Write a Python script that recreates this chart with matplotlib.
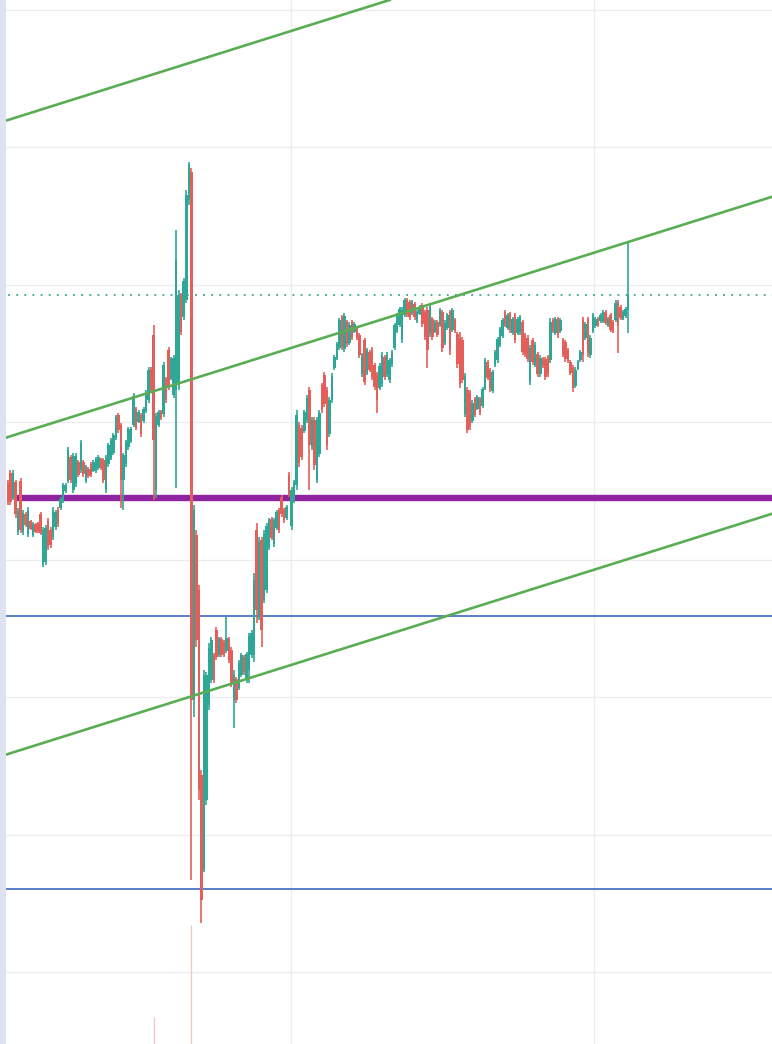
import numpy as np
import matplotlib
matplotlib.use("Agg")
import matplotlib.pyplot as plt

# OHLC candles (price units)
opens = [
    517, 527, 502, 518, 468, 519, 468, 486,
    466, 479, 465, 476, 477, 486, 436, 438,
    479, 470, 463, 473, 490, 492, 499, 509,
    519, 543, 510, 516, 538, 530, 538, 519,
    531, 536, 529, 529, 532, 541, 540, 510,
    536, 542, 547, 562, 585, 575, 520, 536,
    553, 559, 575, 591, 578, 585, 579, 589,
    600, 631, 665, 510, 575, 589, 586, 621,
    650, 622, 605, 610, 615, 705, 683, 700,
    800, 828, 300, 465, 410, 225, 130, 200,
    295, 320, 345, 370, 345, 361, 358, 349,
    361, 350, 300, 321, 312, 325, 343, 320,
    330, 345, 345, 470, 385, 460, 400, 410,
    453, 481, 456, 472, 490, 503, 490, 482,
    525, 474, 500, 515, 575, 572, 569, 580,
    610, 553, 580, 520, 546, 615, 625, 610,
    566, 600, 632, 642, 652, 683, 651, 678,
    657, 678, 668, 672, 665, 626, 660, 627,
    648, 650, 635, 625, 612, 616, 643, 625,
    620, 635, 652, 669, 675, 660, 685, 700,
    698, 687, 696, 679, 686, 695, 688, 690,
    666, 681, 668, 678, 675, 688, 657, 672,
    688, 670, 680, 666, 662, 660, 586, 610,
    607, 579, 601, 591, 601, 594, 612, 638,
    630, 609, 635, 640, 655, 664, 688, 672,
    686, 667, 685, 667, 668, 678, 665, 662,
    618, 660, 635, 646, 626, 641, 641, 643,
    640, 680, 667, 681, 669, 660, 658, 650,
    638, 632, 614, 631, 640, 680, 662, 681,
    645, 669, 674, 681, 679, 679, 688, 675,
    685, 678, 680, 698, 693, 681, 684, 690,
]
highs = [
    520, 530, 530, 520, 492, 522, 490, 488,
    493, 480, 478, 477, 478, 488, 473, 475,
    482, 473, 493, 490, 493, 503, 517, 517,
    553, 545, 547, 547, 540, 560, 540, 535,
    533, 538, 540, 543, 545, 542, 542, 545,
    557, 562, 567, 585, 587, 577, 547, 560,
    573, 573, 607, 593, 590, 587, 593, 610,
    633, 633, 675, 587, 590, 590, 638, 623,
    653, 643, 645, 770, 710, 707, 722, 810,
    838, 832, 495, 470, 415, 230, 330, 328,
    357, 363, 347, 373, 363, 363, 360, 383,
    363, 353, 330, 323, 340, 347, 345, 348,
    367, 370, 427, 477, 463, 463, 470, 477,
    482, 483, 482, 490, 492, 505, 492, 495,
    528, 513, 520, 590, 578, 575, 590, 605,
    613, 583, 583, 583, 590, 617, 628, 613,
    603, 627, 645, 658, 682, 685, 687, 680,
    678, 680, 678, 673, 667, 647, 662, 652,
    650, 653, 637, 628, 637, 648, 645, 648,
    642, 650, 677, 687, 693, 693, 702, 702,
    700, 700, 698, 690, 695, 697, 690, 693,
    697, 683, 680, 680, 692, 690, 680, 687,
    690, 692, 682, 668, 668, 663, 627, 613,
    610, 600, 603, 605, 603, 613, 642, 640,
    632, 630, 650, 663, 673, 682, 690, 687,
    688, 683, 687, 683, 685, 680, 667, 665,
    655, 662, 658, 648, 645, 643, 643, 645,
    682, 682, 683, 683, 682, 662, 660, 652,
    640, 635, 633, 640, 650, 683, 678, 683,
    665, 687, 683, 683, 687, 690, 690, 683,
    687, 680, 700, 700, 695, 690, 693, 757,
]
lows = [
    495, 495, 500, 482, 465, 467, 465, 473,
    463, 470, 463, 467, 467, 465, 433, 435,
    450, 452, 460, 470, 473, 490, 497, 507,
    517, 517, 507, 513, 523, 527, 523, 517,
    522, 523, 528, 527, 530, 530, 517, 507,
    533, 540, 545, 560, 567, 492, 490, 533,
    550, 557, 573, 570, 577, 563, 577, 587,
    597, 607, 500, 502, 573, 580, 583, 597,
    610, 620, 602, 512, 610, 665, 680, 697,
    795, 120, 283, 353, 200, 77, 128, 195,
    290, 317, 317, 340, 343, 343, 343, 347,
    337, 313, 272, 297, 310, 323, 325, 317,
    317, 342, 338, 377, 380, 353, 397, 407,
    450, 460, 453, 470, 467, 483, 477, 480,
    503, 470, 497, 510, 533, 540, 567, 577,
    510, 550, 530, 517, 543, 587, 593, 550,
    563, 597, 630, 640, 650, 650, 648, 653,
    655, 660, 667, 660, 642, 623, 615, 625,
    628, 620, 610, 587, 610, 613, 620, 623,
    617, 633, 650, 667, 673, 657, 683, 683,
    680, 685, 680, 677, 685, 673, 660, 632,
    663, 660, 667, 663, 673, 648, 655, 670,
    645, 668, 667, 632, 612, 617, 583, 567,
    570, 577, 583, 590, 585, 592, 610, 620,
    608, 607, 633, 637, 653, 662, 673, 670,
    667, 665, 657, 665, 665, 645, 643, 638,
    615, 635, 633, 623, 623, 632, 620, 623,
    637, 667, 665, 662, 667, 643, 638, 637,
    625, 608, 612, 630, 638, 638, 660, 643,
    642, 667, 672, 673, 677, 677, 675, 673,
    668, 667, 678, 647, 680, 680, 682, 667,
]
closes = [
    498, 498, 527, 486, 489, 470, 487, 475,
    490, 471, 476, 468, 469, 467, 470, 472,
    453, 455, 490, 488, 476, 501, 515, 515,
    550, 520, 544, 544, 525, 557, 526, 533,
    524, 525, 538, 541, 543, 532, 520, 542,
    555, 560, 565, 583, 570, 520, 545, 558,
    571, 571, 604, 572, 588, 566, 591, 608,
    630, 610, 560, 584, 588, 582, 635, 600,
    613, 641, 642, 740, 705, 668, 719, 805,
    835, 300, 490, 360, 210, 100, 325, 325,
    352, 360, 320, 343, 361, 345, 345, 362,
    340, 317, 325, 300, 337, 345, 328, 346,
    364, 367, 420, 390, 458, 370, 466, 474,
    480, 462, 480, 488, 470, 486, 480, 493,
    505, 510, 518, 585, 537, 543, 588, 602,
    555, 580, 535, 580, 587, 590, 596, 555,
    600, 624, 643, 656, 680, 653, 684, 656,
    675, 662, 676, 662, 645, 645, 618, 650,
    630, 623, 613, 600, 634, 645, 623, 645,
    640, 648, 675, 685, 691, 690, 700, 686,
    683, 698, 683, 688, 693, 676, 663, 650,
    694, 663, 678, 665, 690, 652, 677, 685,
    650, 690, 669, 636, 616, 620, 624, 570,
    573, 597, 585, 603, 587, 611, 640, 622,
    611, 628, 648, 661, 671, 680, 675, 685,
    670, 681, 660, 681, 683, 648, 646, 641,
    652, 638, 655, 626, 642, 634, 623, 626,
    678, 669, 681, 665, 680, 645, 641, 639,
    627, 612, 630, 638, 648, 645, 676, 647,
    662, 685, 681, 675, 685, 688, 677, 681,
    670, 669, 697, 675, 682, 688, 691, 705,
]

# drawing tools on the chart
support_level = 502        # thick purple horizontal ray
support_start = 3.6
blue_levels = [384, 111]
channel_base = [(0, 563), (247, 758)]   # middle channel line
channel_offsets = [317, 0, -317]
faint_wick_idx = [58, 73]
faint_wick_top = [-17, 75]

UP = "#2fa797"
DOWN = "#e45f5a"


def main():
    o = np.array(opens, dtype=float)
    h = np.array(highs, dtype=float)
    l = np.array(lows, dtype=float)
    c = np.array(closes, dtype=float)
    idx = np.arange(len(c))
    colors = np.where(c >= o, UP, DOWN)

    fig = plt.figure(figsize=(7.72, 10.44), dpi=100)
    ax = fig.add_axes([0, 0, 1, 1])
    xmin, xmax = -3.18, 304.3
    ymin, ymax = -44, 1000
    ax.set_xlim(xmin, xmax)
    ax.set_ylim(ymin, ymax)

    # grid
    ax.set_yticks(np.arange(28, ymax, 137.5))
    ax.set_xticks([112.6, 233.6])
    ax.grid(color="#ececec", lw=0.9)
    ax.set_axisbelow(True)
    ax.tick_params(length=0, labelleft=False, labelbottom=False)
    for s in ax.spines.values():
        s.set_visible(False)

    # horizontal levels
    for lvl in blue_levels:
        ax.axhline(lvl, color="#3d67c4", lw=1.2, zorder=1)
    ax.hlines(support_level, support_start, xmax, color="#8e24a0", lw=4.6, zorder=1)

    # faint pink wick remnants at the bottom
    ax.vlines(faint_wick_idx, ymin, faint_wick_top, color="#f0c4bf", lw=0.9, zorder=1)

    # candles
    ax.vlines(idx, l, h, colors=colors, lw=1.2, zorder=3)
    body_bottom = np.minimum(o, c)
    body_h = np.maximum(np.abs(c - o), 1.5)
    ax.bar(idx, body_h, bottom=body_bottom, width=1.0, color=colors, lw=0, zorder=3)

    # last price dotted line
    ax.axhline(c[-1], color=UP, lw=1.3, ls=(0, (1, 3.5)), zorder=2)

    # parallel channel
    (x1, y1), (x2, y2) = channel_base
    for off in channel_offsets:
        ax.axline((x1, y1 + off), (x2, y2 + off), color="#5aad54", lw=1.9, zorder=4)

    # left side strip
    ax.axvspan(xmin, xmin + 2.4, color="#dfe2f1", lw=0, zorder=10)

    fig.savefig("out.png", dpi=100, facecolor="white")
    plt.close(fig)


if __name__ == "__main__":
    main()
